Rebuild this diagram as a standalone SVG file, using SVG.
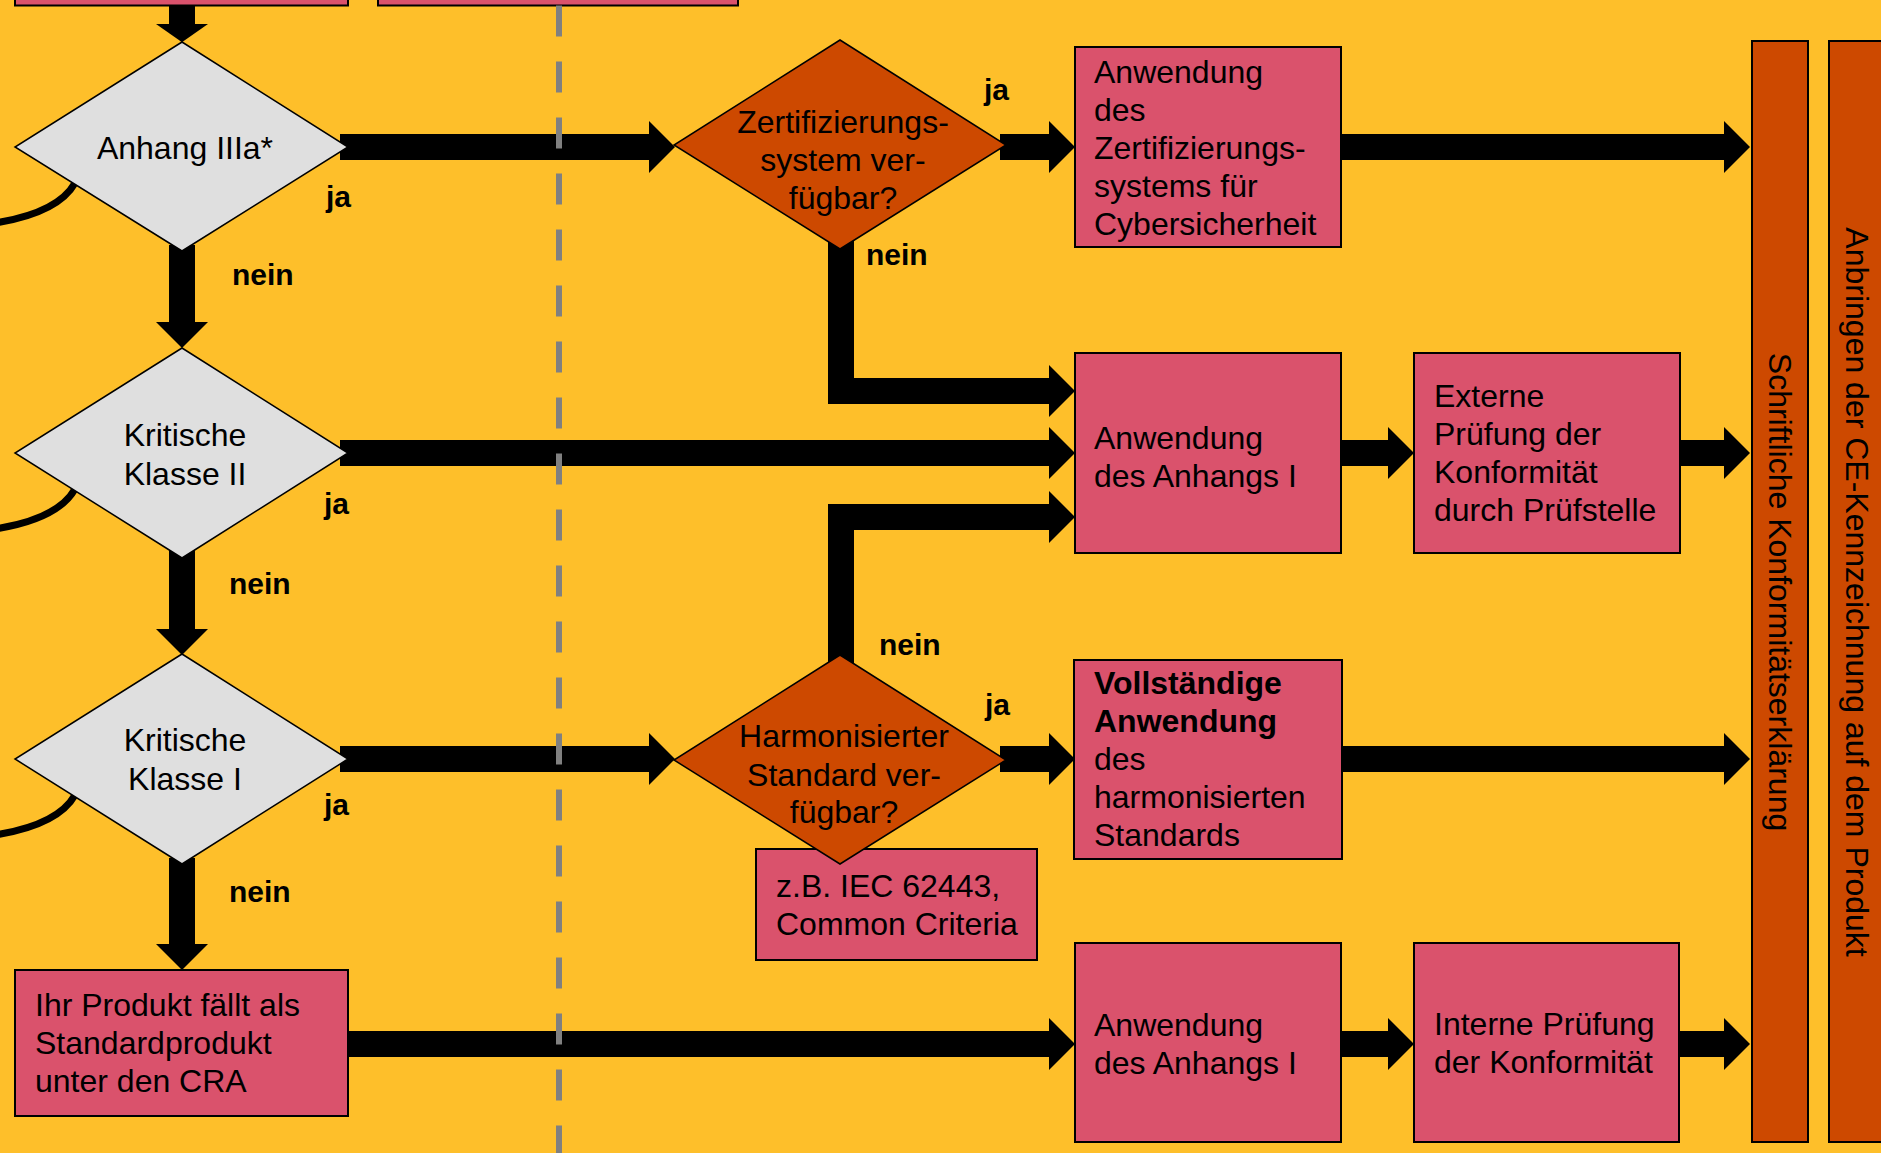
<svg xmlns="http://www.w3.org/2000/svg" width="1881" height="1153" viewBox="0 0 1881 1153">
<defs>
<style>
.bg{fill:#FEBF2A}
.box{fill:#DA526C;stroke:#000;stroke-width:2}
.dia{fill:#DFDFDF;stroke:#000;stroke-width:1.5}
.odia{fill:#CD4900;stroke:#000;stroke-width:1.5}
.bar{fill:#CD4900;stroke:#000;stroke-width:2}
.t{font-family:"Liberation Sans",Arial,sans-serif;font-size:32px;fill:#000}
.c{text-anchor:middle}
.b{font-weight:bold}
.lbl{font-family:"Liberation Sans",Arial,sans-serif;font-size:30px;font-weight:bold;fill:#000}
.con{fill:none;stroke:#000;stroke-width:26;stroke-linejoin:miter;stroke-linecap:butt}
.arc{fill:none;stroke:#000;stroke-width:7}
.dash{stroke:#808080;stroke-width:6;stroke-dasharray:31 25}
</style>
<marker id="ah" viewBox="0 0 1 2" markerWidth="1" markerHeight="2" refX="0" refY="1" orient="auto" markerUnits="strokeWidth">
<path d="M0 0L1 1L0 2z" fill="#000"/>
</marker>
<marker id="ahs" viewBox="0 0 0.7 2" markerWidth="0.7" markerHeight="2" refX="0" refY="1" orient="auto" markerUnits="strokeWidth">
<path d="M0 0L0.7 1L0 2z" fill="#000"/>
</marker>
</defs>
<rect class="bg" x="0" y="0" width="1881" height="1153"/>

<g id="connectors">
<path class="con" d="M182 -2L182 24" marker-end="url(#ahs)"/>
<path class="con" d="M182 245L182 322" marker-end="url(#ah)"/>
<path class="con" d="M182 550L182 629" marker-end="url(#ah)"/>
<path class="con" d="M182 858L182 944" marker-end="url(#ah)"/>
<path class="con" d="M340 147L649 147" marker-end="url(#ah)"/>
<path class="con" d="M1000 147L1049 147" marker-end="url(#ah)"/>
<path class="con" d="M1341 147L1724 147" marker-end="url(#ah)"/>
<path class="con" d="M841 240L841 391L1049 391" marker-end="url(#ah)"/>
<path class="con" d="M340 453L1049 453" marker-end="url(#ah)"/>
<path class="con" d="M1341 453L1388 453" marker-end="url(#ah)"/>
<path class="con" d="M1680 453L1724 453" marker-end="url(#ah)"/>
<path class="con" d="M841 665L841 517L1049 517" marker-end="url(#ah)"/>
<path class="con" d="M340 759L649 759" marker-end="url(#ah)"/>
<path class="con" d="M1000 759L1049 759" marker-end="url(#ah)"/>
<path class="con" d="M1342 759L1724 759" marker-end="url(#ah)"/>
<path class="con" d="M348 1044L1049 1044" marker-end="url(#ah)"/>
<path class="con" d="M1341 1044L1388 1044" marker-end="url(#ah)"/>
<path class="con" d="M1679 1044L1724 1044" marker-end="url(#ah)"/>
<path class="arc" d="M75 183Q58 213 -5 223"/>
<path class="arc" d="M75 489Q58 519 -5 529"/>
<path class="arc" d="M75 795Q58 825 -5 835"/>
</g>

<g id="top-box-1"><rect class="box" x="15" y="-50" width="333" height="55.5"/></g>
<g id="top-box-2"><rect class="box" x="378" y="-50" width="360" height="55.5"/></g>

<g id="anhang-iiia">
<polygon class="dia" points="182,42 348,147 182,251 15,147"/>
<text class="t c" x="185" y="159">Anhang IIIa*</text>
</g>
<g id="kritisch-ii">
<polygon class="dia" points="182,348 348,453 182,558 15,453"/>
<text class="t c" x="185"><tspan x="185" y="446">Kritische</tspan><tspan x="185" y="485">Klasse II</tspan></text>
</g>
<g id="kritisch-i">
<polygon class="dia" points="182,654 348,759 182,864 15,759"/>
<text class="t c" x="185"><tspan x="185" y="751">Kritische</tspan><tspan x="185" y="790">Klasse I</tspan></text>
</g>
<g id="standardprodukt">
<rect class="box" x="15" y="970" width="333" height="146"/>
<text class="t"><tspan x="35" y="1016">Ihr Produkt fällt als</tspan><tspan x="35" y="1054">Standardprodukt</tspan><tspan x="35" y="1092">unter den CRA</tspan></text>
</g>

<g id="zertifizierung">
<polygon class="odia" points="840,40 1006,145 840,249 674,145"/>
<text class="t c"><tspan x="843" y="133">Zertifizierungs-</tspan><tspan x="843" y="171">system ver-</tspan><tspan x="843" y="209">fügbar?</tspan></text>
</g>
<g id="beispiel">
<rect class="box" x="756" y="849" width="281" height="111"/>
<text class="t"><tspan x="776" y="897">z.B. IEC 62443,</tspan><tspan x="776" y="935">Common Criteria</tspan></text>
</g>
<g id="harmonisiert">
<polygon class="odia" points="840,655 1006,760 840,864 674,760"/>
<text class="t c"><tspan x="844" y="747">Harmonisierter</tspan><tspan x="844" y="786">Standard ver-</tspan><tspan x="844" y="823">fügbar?</tspan></text>
</g>

<g id="anw-zert">
<rect class="box" x="1075" y="47" width="266" height="200"/>
<text class="t"><tspan x="1094" y="83">Anwendung</tspan><tspan x="1094" y="121">des</tspan><tspan x="1094" y="159">Zertifizierungs-</tspan><tspan x="1094" y="197">systems für</tspan><tspan x="1094" y="235">Cybersicherheit</tspan></text>
</g>
<g id="anw-anhang-1">
<rect class="box" x="1075" y="353" width="266" height="200"/>
<text class="t"><tspan x="1094" y="449">Anwendung</tspan><tspan x="1094" y="487">des Anhangs I</tspan></text>
</g>
<g id="extern">
<rect class="box" x="1414" y="353" width="266" height="200"/>
<text class="t"><tspan x="1434" y="407">Externe</tspan><tspan x="1434" y="445">Prüfung der</tspan><tspan x="1434" y="483">Konformität</tspan><tspan x="1434" y="521">durch Prüfstelle</tspan></text>
</g>
<g id="vollstaendig">
<rect class="box" x="1074" y="660" width="268" height="199"/>
<text class="t"><tspan class="b" x="1094" y="694">Vollständige</tspan><tspan class="b" x="1094" y="732">Anwendung</tspan><tspan x="1094" y="770">des</tspan><tspan x="1094" y="808">harmonisierten</tspan><tspan x="1094" y="846">Standards</tspan></text>
</g>
<g id="anw-anhang-2">
<rect class="box" x="1075" y="943" width="266" height="199"/>
<text class="t"><tspan x="1094" y="1036">Anwendung</tspan><tspan x="1094" y="1074">des Anhangs I</tspan></text>
</g>
<g id="intern">
<rect class="box" x="1414" y="943" width="265" height="199"/>
<text class="t"><tspan x="1434" y="1035">Interne Prüfung</tspan><tspan x="1434" y="1073">der Konformität</tspan></text>
</g>

<g id="erklaerung">
<rect class="bar" x="1752" y="41" width="56" height="1101"/>
<text class="t c" transform="translate(1769,592) rotate(90)" x="0" y="0">Schriftliche Konformitätserklärung</text>
</g>
<g id="ce-kennzeichnung">
<rect class="bar" x="1829" y="41" width="70" height="1101"/>
<text class="t c" transform="translate(1846,592) rotate(90)" x="0" y="0">Anbringen der CE-Kennzeichnung auf dem Produkt</text>
</g>

<g id="labels">
<text class="lbl" x="326" y="207">ja</text>
<text class="lbl" x="232" y="285">nein</text>
<text class="lbl" x="324" y="514">ja</text>
<text class="lbl" x="229" y="594">nein</text>
<text class="lbl" x="324" y="815">ja</text>
<text class="lbl" x="229" y="902">nein</text>
<text class="lbl" x="984" y="100">ja</text>
<text class="lbl" x="866" y="265">nein</text>
<text class="lbl" x="879" y="655">nein</text>
<text class="lbl" x="985" y="715">ja</text>
</g>

<line class="dash" x1="559" y1="5.5" x2="559" y2="1160"/>
</svg>
